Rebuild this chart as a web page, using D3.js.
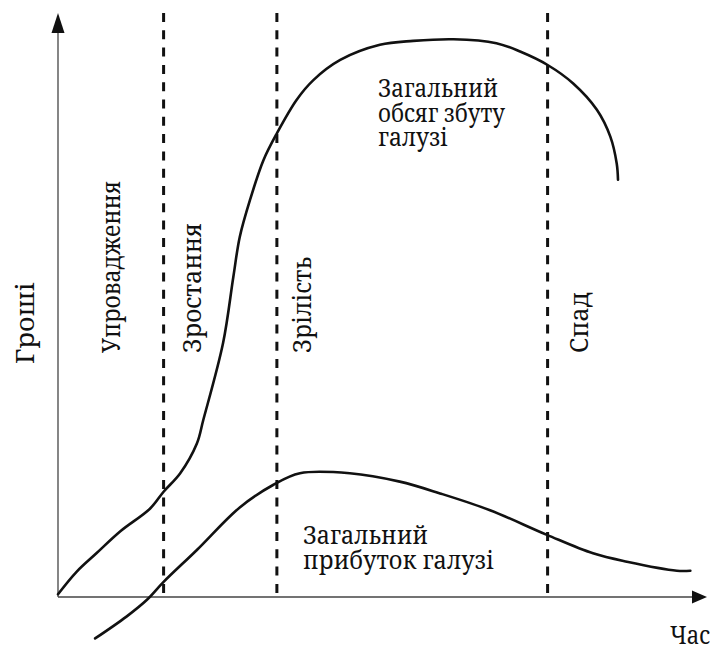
<!DOCTYPE html>
<html>
<head>
<meta charset="utf-8">
<script src="https://cdn.jsdelivr.net/npm/d3@7"></script>
<style>
  html, body { margin: 0; padding: 0; background: #fff; }
</style>
</head>
<body>
<script>
// ---- data (time units 0..100, money units 0..100) ----
const stageNames = ["Упровадження", "Зростання", "Зрілість", "Спад"];
const stageBoundaries = [16.5, 34.2, 76.5];

const salesX = [0, 2.9, 6.0, 9.7, 14.4, 16.5, 19.1, 21.7, 22.7, 25.8, 27.4, 28.4, 30.0, 32.1, 34.2, 37.3, 39.9, 44.1, 50.3, 55.5, 61.8, 68.5, 72.2, 76.5, 80.5, 84.2, 86.3, 87.3, 87.5];
const salesY = [0.5, 4.5, 7.8, 11.7, 15.8, 18.8, 22.1, 27.4, 31.6, 45.4, 57.2, 64.3, 70.9, 78.0, 82.8, 88.8, 92.3, 95.9, 98.6, 99.3, 99.6, 98.9, 97.4, 95.0, 91.7, 87.0, 82.2, 77.4, 74.5];

const profitX = [5.8, 10.7, 13.9, 16.5, 21.7, 28.4, 33.6, 37.8, 45.6, 53.4, 59.7, 67.5, 76.4, 83.6, 88.9, 96.7, 98.8];
const profitY = [-7.4, -3.5, -0.5, 2.7, 8.4, 16.0, 20.0, 22.1, 22.1, 20.6, 18.5, 15.5, 11.1, 7.8, 6.3, 4.7, 4.7];

const salesLabel = ["Загальний", "обсяг збуту", "галузі"];
const profitLabel = ["Загальний", "прибуток галузі"];
const yAxisLabel = "Гроші";
const xAxisLabel = "Час";

// ---- layout ----
const W = 712, H = 648;
const FONT = '"Noto Serif", "DejaVu Serif", serif';
const FS = 26;
const svg = d3.select("body").append("svg").attr("width", W).attr("height", H);

const x = d3.scaleLinear().domain([0, 100]).range([58, 698]);
const y = d3.scaleLinear().domain([0, 100]).range([597, 37]);

const ox = x(0), oy = y(0);
const axisColor = "#444";

// axes
svg.append("line").attr("x1", ox).attr("y1", oy).attr("x2", ox).attr("y2", 30)
  .attr("stroke", axisColor).attr("stroke-width", 1.3);
svg.append("path").attr("d", `M${ox},13 L${ox - 6.5},33 L${ox + 6.5},33 Z`).attr("fill", "#111");

svg.append("line").attr("x1", ox).attr("y1", oy).attr("x2", 696).attr("y2", oy)
  .attr("stroke", axisColor).attr("stroke-width", 1.3);
svg.append("path").attr("d", `M707,${oy} L692,${oy - 6.5} L692,${oy + 6.5} Z`).attr("fill", "#111");

// stage dividers
svg.selectAll("line.stage").data(stageBoundaries).enter().append("line")
  .attr("class", "stage")
  .attr("x1", d => x(d)).attr("x2", d => x(d))
  .attr("y1", 13).attr("y2", 600)
  .attr("stroke", "#111").attr("stroke-width", 3)
  .attr("stroke-dasharray", "9,8.3");

// curves
const line = d3.line().x(d => x(d[0])).y(d => y(d[1])).curve(d3.curveCatmullRom.alpha(0.5));
const sales = salesX.map((v, i) => [v, salesY[i]]);
const profit = profitX.map((v, i) => [v, profitY[i]]);

svg.append("path").attr("d", line(sales)).attr("fill", "none")
  .attr("stroke", "#111").attr("stroke-width", 2.6).attr("stroke-linecap", "round");
svg.append("path").attr("d", line(profit)).attr("fill", "none")
  .attr("stroke", "#111").attr("stroke-width", 2.6).attr("stroke-linecap", "round");

function label(sel, len) {
  return sel.attr("font-size", FS).style("font-family", FONT).attr("fill", "#111")
    .attr("textLength", len).attr("lengthAdjust", "spacingAndGlyphs");
}

// stage labels (vertical)
const stageLabelX = [119.5, 200.5, 311, 588];
const stageLabelLen = [172, 130, 96, 61];
stageNames.forEach((s, i) => {
  label(svg.append("text"), stageLabelLen[i])
    .attr("transform", `translate(${stageLabelX[i]},353) rotate(-90)`)
    .text(s);
});

// axis labels
label(svg.append("text"), 82)
  .attr("transform", `translate(33.5,364) rotate(-90)`)
  .text(yAxisLabel);
label(svg.append("text"), 40).attr("x", 670).attr("y", 644).text(xAxisLabel);

// curve labels
const salesLen = [120, 127, 70];
salesLabel.forEach((t, i) => {
  label(svg.append("text"), salesLen[i]).attr("x", 378).attr("y", 97 + i * 24.5).text(t);
});
const profitLen = [125, 191];
profitLabel.forEach((t, i) => {
  label(svg.append("text"), profitLen[i]).attr("x", 303).attr("y", 543.5 + i * 25).text(t);
});
</script>
</body>
</html>
